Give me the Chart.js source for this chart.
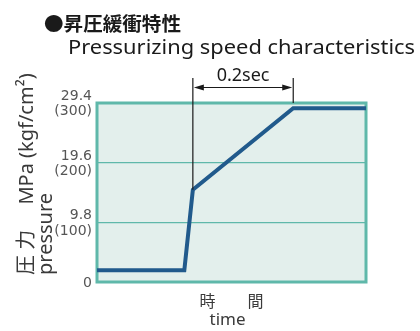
<!DOCTYPE html>
<html>
<head>
<meta charset="utf-8">
<script src="https://cdn.jsdelivr.net/npm/chart.js@4/dist/chart.umd.min.js"></script>
<style>
  html,body{margin:0;padding:0;background:#fff;}
  #wrap{position:relative;width:420px;height:331px;}
</style>
</head>
<body>
<div id="wrap"><canvas id="c"></canvas></div>
<script>
// 昇圧緩衝特性 — presión vs tiempo
const titleJa = '●昇圧緩衝特性';
const titleEn = 'Pressurizing speed characteristics';
const yTitle = ['圧 力　 MPa (kgf/cm²)', 'pressure'];
const xTitle = ['時　　間', 'time'];

const times = [0, 0.174, 0.191, 0.391, 0.536];       // s
const pressure = [1.93, 1.93, 15.15, 28.55, 28.55];  // MPa
const yTicks = [0, 9.8, 19.6, 29.4];
const yTickLabels = ['0', ['9.8', '(100)'], ['19.6', '(200)'], ['29.4', '(300)']];
const markTimes = [0.191, 0.391];
const markLabel = '0.2sec';

const teal = '#5fb8aa', fillBg = '#e3efec', lineCol = '#215a8c';
const LAT = '"Noto Sans", "Noto Sans CJK JP", sans-serif';
const JP = '"Noto Sans CJK JP", "Noto Sans", sans-serif';

// texto ensanchado para ocupar un ancho dado (la fuente original es más ancha)
function fillWide(ctx, txt, x, y, w) {
  const m = ctx.measureText(txt).width;
  ctx.save();
  ctx.translate(x, y); ctx.scale(w / m, 1);
  ctx.fillText(txt, 0, 0);
  ctx.restore();
}

const deco = {
  id: 'deco',
  beforeDraw(ch) {
    const {ctx, chartArea: a} = ch;
    ctx.save();
    ctx.fillStyle = fillBg;
    ctx.fillRect(a.left, a.top, a.right - a.left, a.bottom - a.top);
    ctx.restore();
  },
  beforeDatasetsDraw(ch) {
    const {ctx, chartArea: a} = ch;
    ctx.save();
    ctx.strokeStyle = teal; ctx.lineWidth = 3;
    ctx.strokeRect(a.left, a.top, a.right - a.left, a.bottom - a.top);
    ctx.restore();
  },
  afterDraw(ch) {
    const {ctx, chartArea: a} = ch;
    const xs = ch.scales.x, ys = ch.scales.y;
    ctx.save();
    // títulos
    ctx.fillStyle = '#1a1a1a';
    ctx.textBaseline = 'alphabetic';
    ctx.font = 'bold 19px ' + JP;
    fillWide(ctx, titleJa, 44, 31, 137);
    ctx.font = '19px ' + LAT;
    fillWide(ctx, titleEn, 68, 54, 347);

    // título eje y (rotado)
    ctx.fillStyle = '#3a3a3a';
    ctx.save();
    ctx.translate(33, 275); ctx.rotate(-Math.PI / 2);
    ctx.font = '20px ' + LAT;
    ctx.fillText(yTitle[0], 0, 0);
    ctx.fillText(yTitle[1], 0, 19);
    ctx.restore();

    // título eje x
    ctx.textAlign = 'center';
    const cx = (a.left + a.right) / 2;
    ctx.font = '16px ' + JP;
    ctx.fillText(xTitle[0], cx, 307);
    ctx.font = '17px ' + LAT;
    ctx.fillText(xTitle[1], cx - 4, 325);

    // cota 0.2sec
    const x1 = xs.getPixelForValue(markTimes[0]), x2 = xs.getPixelForValue(markTimes[1]);
    const i1 = times.indexOf(markTimes[0]);
    const yTop = 78, yArr = 87.5;
    ctx.strokeStyle = '#1a1a1a'; ctx.fillStyle = '#1a1a1a'; ctx.lineWidth = 1.2;
    ctx.beginPath();
    ctx.moveTo(x1, yTop); ctx.lineTo(x1, ys.getPixelForValue(pressure[i1]));
    ctx.moveTo(x2, yTop); ctx.lineTo(x2, a.top);
    ctx.moveTo(x1 + 6, yArr); ctx.lineTo(x2 - 6, yArr);
    ctx.stroke();
    ctx.beginPath();
    ctx.moveTo(x1 + 1, yArr); ctx.lineTo(x1 + 11, yArr - 3); ctx.lineTo(x1 + 11, yArr + 3); ctx.closePath();
    ctx.moveTo(x2 - 1, yArr); ctx.lineTo(x2 - 11, yArr - 3); ctx.lineTo(x2 - 11, yArr + 3); ctx.closePath();
    ctx.fill();
    ctx.font = '18px ' + LAT;
    ctx.fillText(markLabel, (x1 + x2) / 2, 81);
    ctx.restore();
  }
};

new Chart(document.getElementById('c').getContext('2d'), {
  type: 'line',
  data: {
    datasets: [{
      data: times.map((t, i) => ({x: t, y: pressure[i]})),
      borderColor: lineCol, borderWidth: 4, pointRadius: 0, tension: 0, fill: false,
      borderJoinStyle: 'miter'
    }]
  },
  options: {
    responsive: true, maintainAspectRatio: false, animation: false,
    layout: {padding: {left: 0, right: 54, top: 103, bottom: 0}},
    plugins: {legend: {display: false}, tooltip: {enabled: false}},
    scales: {
      x: {type: 'linear', min: 0, max: 0.536,
          ticks: {display: false}, grid: {display: false}, border: {display: false},
          afterFit: s => { s.height = 49; }},
      y: {min: 0, max: 29.4,
          afterBuildTicks: s => { s.ticks = yTicks.map(v => ({value: v})); },
          afterFit: s => { s.width = 97; },
          ticks: {padding: 5, labelOffset: 1, color: '#555',
                  font: {family: '"DejaVu Sans", sans-serif', size: 14, lineHeight: 1.1},
                  callback: (v, i) => yTickLabels[i]},
          grid: {color: teal, lineWidth: 1.2, drawTicks: false},
          border: {display: false}}
    }
  },
  plugins: [deco]
});
</script>
</body>
</html>
